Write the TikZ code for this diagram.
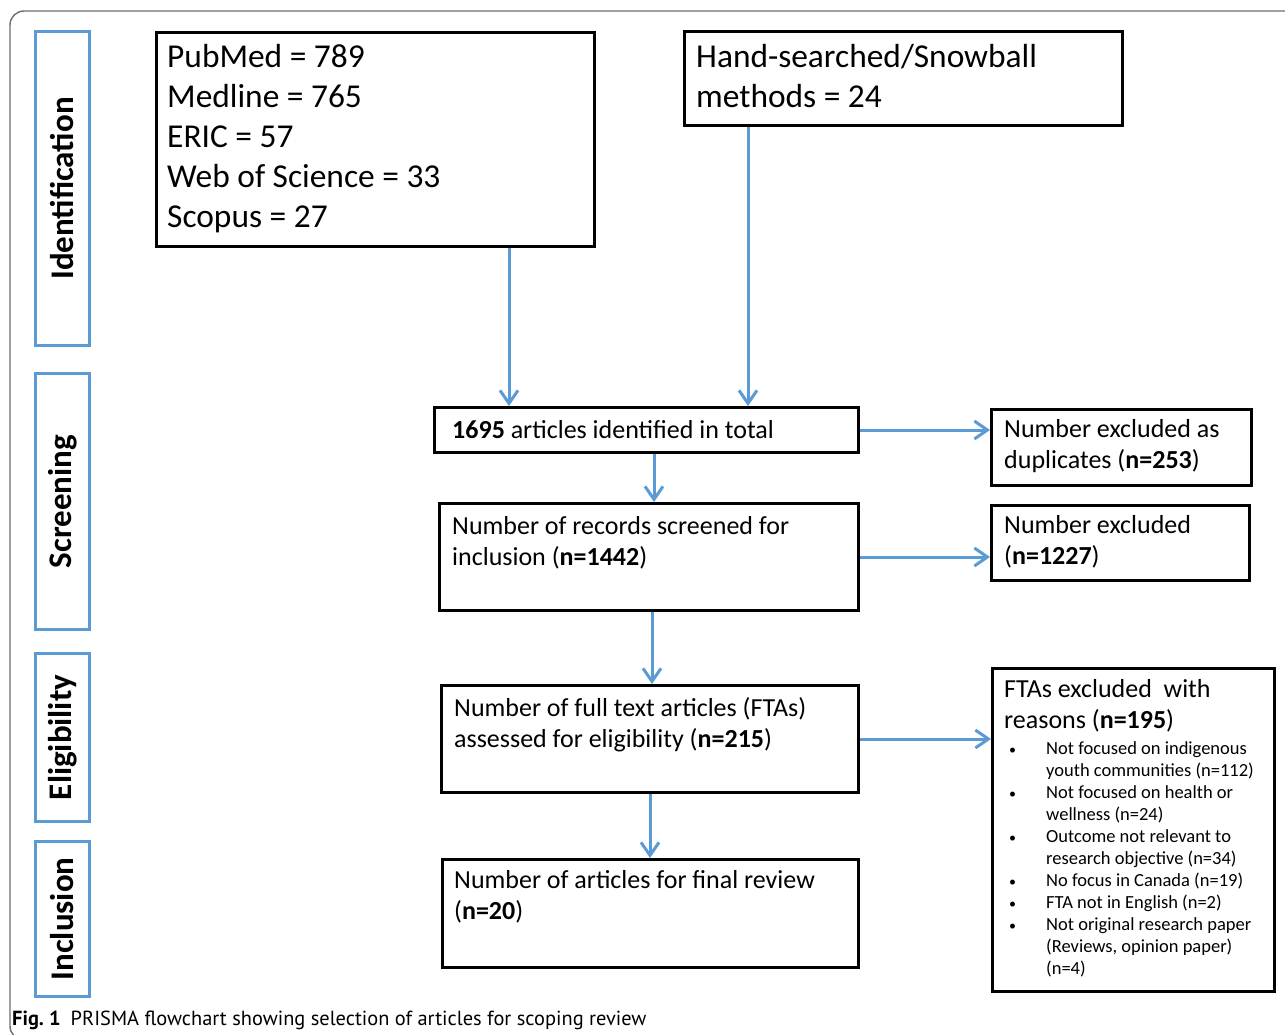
\documentclass[tikz,border=0pt]{standalone}
\usepackage{fontspec}
\setmainfont{Carlito}
\newfontfamily\capfont{PT Sans}
\usetikzlibrary{arrows.meta,calc}
\definecolor{flowblue}{HTML}{5B9BD5}
\definecolor{framegray}{HTML}{6E6E6E}
\newcommand{\strt}{\rule{0pt}{0.8em}}
\newcommand{\bul}{\makebox[38pt][l]{\hspace{1pt}{\fontsize{14}{22}\selectfont\textbullet}}}
\begin{document}
\begin{tikzpicture}[x=1pt,y=-1pt,
  box/.style={draw=black,line width=3pt,anchor=north west,inner sep=0pt},
  sidebox/.style={draw=flowblue,line width=3pt,anchor=north west,inner sep=0pt},
  txt/.style={inner sep=0pt,anchor=north west,align=left},
  big/.style={font=\fontsize{33.4}{40}\selectfont},
  mid/.style={font=\fontsize{26}{31}\selectfont},
  small/.style={font=\fontsize{18.5}{22}\selectfont},
  sidetxt/.style={rotate=90,inner sep=0pt,font=\fontsize{33}{40}\selectfont\bfseries},
  arr/.style={draw=flowblue,line width=3pt,-{Straight Barb[length=13pt,width=18pt,line width=3pt]}}
]
\useasboundingbox (0,0) rectangle (1285,1035);
\clip (0,0) rectangle (1285,1035);
\fill[white] (0,0) rectangle (1285,1035);
% outer frame
\draw[framegray,line width=1.4pt,rounded corners=14pt] (10,11) rectangle (1340,1040);

% side boxes
\node[sidebox,minimum width=54pt,minimum height=314pt] (s1) at (34,30) {};
\node[sidebox,minimum width=54pt,minimum height=256pt] (s2) at (34,372) {};
\node[sidebox,minimum width=54pt,minimum height=168pt] (s3) at (34,652) {};
\node[sidebox,minimum width=54pt,minimum height=155pt] (s4) at (34,840) {};
\node[sidetxt] at (s1.center) {Identification};
\node[sidetxt] at (s2.center) {Screening};
\node[sidetxt] at (s3.center) {Eligibility};
\node[sidetxt] at (s4.center) {Inclusion};

% main boxes
\node[box,minimum width=438pt,minimum height=214pt] (b1) at (155,31) {};
\node[box,minimum width=438pt,minimum height=94pt] (b2) at (683,30) {};
\node[box,minimum width=424pt,minimum height=45pt] (b3) at (433,406) {};
\node[box,minimum width=260pt,minimum height=76pt] (dup) at (990,408) {};
\node[box,minimum width=419pt,minimum height=107pt] (b4) at (438,502) {};
\node[box,minimum width=258pt,minimum height=75pt] (excl) at (990,504) {};
\node[box,minimum width=417pt,minimum height=107pt] (b5) at (440,684) {};
\node[box,minimum width=282pt,minimum height=323pt] (fta) at (991,667) {};
\node[box,minimum width=416pt,minimum height=108pt] (b6) at (441,858) {};

% texts
\node[txt,big] (t1) at (167,40.6) {\strt PubMed = 789\\Medline = 765\\ERIC = 57\\Web of Science = 33\\Scopus = 27};
\node[txt,big] (t2) at (696,40.6) {\strt Hand-searched/Snowball\\methods = 24};
\node[txt,mid] (t3) at (452,417.2) {\strt\textbf{1695} articles identified in total};
\node[txt,mid] (t4) at (452,513.2) {\strt Number of records screened for\\inclusion (\textbf{n=1442})};
\node[txt,mid] (t5) at (454,695.2) {\strt Number of full text articles (FTAs)\\assessed for eligibility (\textbf{n=215})};
\node[txt,mid] (t6) at (454,867.2) {\strt Number of articles for final review\\(\textbf{n=20})};
\node[txt,mid] (tdup) at (1004,416.2) {\strt Number excluded as\\duplicates (\textbf{n=253})};
\node[txt,mid] (texcl) at (1004,512.2) {\strt Number excluded\\(\textbf{n=1227})};
\node[txt,mid] (tfta) at (1004,676.2) {\strt FTAs excluded\ \ with\\reasons (\textbf{n=195})};
\node[txt,small] (tlist) at (1008,739.2) {\strt\bul Not focused on indigenous\\
\hspace*{38pt}youth communities (n=112)\\
\bul Not focused on health or\\
\hspace*{38pt}wellness (n=24)\\
\bul Outcome not relevant to\\
\hspace*{38pt}research objective (n=34)\\
\bul No focus in Canada (n=19)\\
\bul FTA not in English (n=2)\\
\bul Not original research paper\\
\hspace*{38pt}(Reviews, opinion paper)\\
\hspace*{38pt}(n=4)};

% connectors
\draw[arr] (b1.south -| 509,0) -- (b3.north -| 509,0);
\draw[arr] (b2.south -| 748,0) -- (b3.north -| 748,0);
\draw[arr] (b3.east) -- (dup.west |- b3.east);
\draw[arr] (b3.south -| 654,0) -- (b4.north -| 654,0);
\draw[arr] (b4.east) -- (excl.west |- b4.east);
\draw[arr] (b4.south -| 652,0) -- (b5.north -| 652,0);
\draw[arr] (b5.east) -- (fta.west |- b5.east);
\draw[arr] (b5.south -| 650,0) -- (b6.north -| 650,0);

% caption
\node[inner sep=0pt,anchor=base west,font=\capfont\fontsize{20.4}{24}\selectfont] (cap) at (12,1025) {\textbf{Fig.~1}\hspace{10pt}PRISMA flowchart showing selection of articles for scoping review};
\end{tikzpicture}
\end{document}
